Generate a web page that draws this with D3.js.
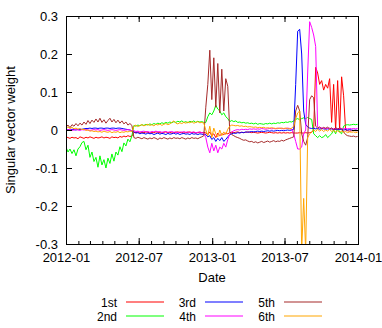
<!DOCTYPE html>
<html>
<head>
<meta charset="utf-8">
<script src="https://cdnjs.cloudflare.com/ajax/libs/d3/7.8.5/d3.min.js"></script>
<style>
body { margin: 0; background: #fff; }
svg { display: block; }
text { font-family: "Liberation Sans", Arial, Helvetica, sans-serif; font-size: 13px; fill: #000; }
</style>
</head>
<body>
<svg></svg>
<script>
// one value every 5 days from 2012-01-01
var startDate = "2012-01-01";
var stepDays = 5;

var seriesNames = ["1st", "2nd", "3rd", "4th", "5th", "6th"];
var xTickLabels = ["2012-01", "2012-07", "2013-01", "2013-07", "2014-01"];
var yTickLabels = ["-0.3", "-0.2", "-0.1", "0", "0.1", "0.2", "0.3"];

var first = [
  -0.018, -0.02, -0.022, -0.019, -0.021, -0.02, -0.023, -0.018, -0.02, -0.022, -0.019, -0.021, -0.018, -0.02, -0.022, -0.019, -0.021, -0.02, -0.018, -0.021, -0.019, -0.02, -0.022, -0.018, -0.02, -0.019, -0.021, -0.017, -0.019, -0.016, -0.018, -0.015, -0.017, -0.016,
  -0.006, -0.007, -0.005, -0.008, -0.006, -0.007, -0.005, -0.006, -0.008, -0.006, -0.007, -0.005, -0.006, -0.007, -0.008, -0.006, -0.005, -0.007, -0.006, -0.008, -0.007, -0.006, -0.005, -0.007, -0.006, -0.008, -0.007, -0.006, -0.005, -0.007, -0.006, -0.008, -0.007, -0.006, -0.007, -0.006,
  -0.008, -0.012, -0.005, -0.015, -0.01, -0.02, -0.008, -0.015, -0.01, -0.012, -0.008, -0.01, -0.007,
  -0.006, -0.007, -0.006, -0.005, -0.007, -0.006, -0.007, -0.006, -0.005, -0.006, -0.007, -0.006, -0.007, -0.008, -0.007, -0.006, -0.007, -0.008, -0.007, -0.006, -0.007, -0.008, -0.007, -0.008, -0.007, -0.008, -0.007, -0.008, -0.007, -0.008, -0.007, -0.008,
  -0.008, -0.008, -0.007, -0.008, -0.008, -0.007, -0.008, -0.007, -0.006, 0.0, 0.165, 0.15, 0.12, 0.13, 0.105, 0.12, 0.11, 0.135, 0.02, 0.12, 0.0, 0.13, 0.0, 0.14, 0.09, 0.0, -0.002, -0.003, -0.002, -0.001, -0.002, -0.002
];
var second = [
  -0.045, -0.058, -0.05, -0.062, -0.052, -0.068, -0.05, -0.044, -0.033, -0.03, -0.052, -0.04, -0.072, -0.058, -0.083, -0.072, -0.098, -0.068, -0.092, -0.078, -0.1, -0.074, -0.088, -0.063, -0.082, -0.058, -0.066, -0.044, -0.057, -0.034, -0.042, -0.024, -0.031, -0.015,
  0.012, 0.01, 0.013, 0.011, 0.014, 0.012, 0.015, 0.013, 0.016, 0.014, 0.017, 0.015, 0.018, 0.016, 0.019, 0.017, 0.02, 0.018, 0.021, 0.019, 0.022, 0.02, 0.023, 0.021, 0.024, 0.02, 0.022, 0.019, 0.023, 0.021, 0.024, 0.02, 0.023, 0.021, 0.022, 0.02,
  0.02, 0.035, 0.045, 0.04, 0.05, 0.065, 0.055, 0.05, 0.04, 0.045, 0.035, 0.03, 0.022,
  0.025, 0.022, 0.024, 0.02, 0.021, 0.019, 0.02, 0.018, 0.019, 0.017, 0.018, 0.016, 0.018, 0.015, 0.017, 0.016, 0.015, 0.017, 0.016, 0.018, 0.016, 0.018, 0.017, 0.019, 0.018, 0.02, 0.019, 0.021, 0.02, 0.022, 0.021, 0.024,
  0.028, 0.03, 0.027, 0.03, 0.032, 0.03, 0.033, 0.03, 0.028, -0.01, -0.015, -0.02, -0.015, -0.02, -0.018, -0.012, -0.02, -0.015, -0.01, 0.0, -0.01, 0.005, -0.005, -0.01, 0.01, 0.013, 0.014, 0.013, 0.014, 0.015, 0.014, 0.015
];
var third = [
  0.0, 0.001, 0.0, 0.002, 0.001, 0.0, 0.002, 0.001, 0.002, 0.003, 0.004, 0.004, 0.005, 0.004, 0.005, 0.005, 0.004, 0.005, 0.005, 0.004, 0.005, 0.005, 0.004, 0.005, 0.005, 0.004, 0.005, 0.005, 0.004, 0.003, 0.002, 0.001, 0.0, -0.002,
  -0.005, -0.008, -0.007, -0.01, -0.008, -0.009, -0.011, -0.008, -0.01, -0.009, -0.012, -0.01, -0.008, -0.011, -0.009, -0.01, -0.012, -0.009, -0.011, -0.01, -0.008, -0.011, -0.009, -0.012, -0.01, -0.009, -0.011, -0.01, -0.012, -0.009, -0.011, -0.01, -0.012, -0.01, -0.011, -0.012,
  -0.012, -0.018, -0.015, -0.025, -0.02, -0.03, -0.022, -0.028, -0.02, -0.03, -0.025, -0.018, -0.012,
  -0.01, -0.008, -0.009, -0.007, -0.008, -0.006, -0.007, -0.005, -0.006, -0.005, -0.004, -0.005, -0.004, -0.003, -0.004, -0.003, -0.004, -0.003, -0.002, -0.003, -0.002, -0.003, -0.002, -0.001, -0.002, -0.001, -0.002, -0.001, 0.0, -0.001, 0.0, 0.002,
  0.12, 0.26, 0.265, 0.2, 0.05, 0.015, 0.008, 0.005, 0.004, 0.005, 0.003, 0.004, 0.002, 0.004, 0.003, 0.002, 0.003, 0.002, 0.003, 0.001, 0.002, 0.001, 0.002, 0.001, 0.0, 0.001, 0.0, 0.001, 0.0, -0.001, 0.0, -0.001
];
var fourth = [
  0.002, 0.0, 0.001, -0.001, 0.0, 0.001, 0.0, -0.001, 0.001, 0.0, 0.001, 0.0, -0.001, 0.0, 0.001, 0.0, 0.001, -0.001, 0.0, 0.001, 0.0, -0.001, 0.0, 0.001, 0.0, -0.001, 0.0, 0.001, 0.0, -0.001, 0.0, 0.001, 0.0, -0.002,
  -0.002, -0.004, -0.003, -0.005, -0.004, -0.003, -0.005, -0.004, -0.006, -0.004, -0.005, -0.003, -0.005, -0.004, -0.006, -0.005, -0.004, -0.006, -0.005, -0.004, -0.006, -0.005, -0.007, -0.005, -0.006, -0.004, -0.006, -0.005, -0.007, -0.006, -0.005, -0.007, -0.006, -0.005, -0.007, -0.008,
  -0.02, -0.045, -0.06, -0.035, -0.055, -0.04, -0.06, -0.045, -0.05, -0.035, -0.045, -0.025, -0.01,
  -0.005, -0.002, 0.0, 0.001, 0.0, 0.002, 0.001, 0.002, 0.001, 0.003, 0.002, 0.003, 0.002, 0.003, 0.002, 0.004, 0.003, 0.002, 0.003, 0.004, 0.003, 0.004, 0.003, 0.004, 0.005, 0.004, 0.003, 0.004, 0.005, 0.004, 0.002, -0.01,
  -0.03, -0.05, -0.05, -0.045, -0.01, 0.0, 0.15, 0.285, 0.27, 0.25, 0.22, 0.008, 0.005, 0.006, 0.004, 0.005, 0.004, 0.005, 0.003, 0.004, 0.003, 0.004, 0.003, 0.004, 0.003, 0.004, 0.003, 0.004, 0.003, 0.004, 0.003, 0.004
];
var fifth = [
  0.008, 0.013, 0.006, 0.014, 0.01, 0.017, 0.011, 0.018, 0.013, 0.021, 0.015, 0.025, 0.017, 0.026, 0.02, 0.029, 0.021, 0.031, 0.02, 0.027, 0.018, 0.025, 0.031, 0.021, 0.028, 0.019, 0.026, 0.018, 0.024, 0.016, 0.021, 0.013, 0.017, 0.012,
  -0.02, -0.022, -0.019, -0.021, -0.023, -0.02, -0.022, -0.024, -0.021, -0.023, -0.02, -0.022, -0.025, -0.021, -0.023, -0.02, -0.022, -0.024, -0.021, -0.023, -0.02, -0.022, -0.021, -0.023, -0.02, -0.022, -0.024, -0.021, -0.023, -0.02, -0.022, -0.021, -0.023, -0.02, -0.018, -0.015,
  0.06, 0.12, 0.21, 0.08, 0.19, 0.06, 0.175, 0.045, 0.16, 0.05, 0.135, 0.115, -0.005,
  -0.012, -0.015, -0.018, -0.02, -0.022, -0.025, -0.027, -0.026, -0.029, -0.031, -0.03, -0.033, -0.031, -0.034, -0.032, -0.03, -0.033, -0.031, -0.029, -0.032, -0.03, -0.028, -0.031, -0.029, -0.03, -0.027, -0.029, -0.026, -0.024, -0.022, -0.02, -0.018,
  0.05, 0.065, 0.05, -0.01, -0.03, -0.04, -0.02, 0.08, 0.09, 0.085, 0.01, 0.005, 0.008, 0.003, 0.007, 0.004, 0.008, 0.002, 0.006, 0.0, 0.007, 0.002, 0.006, 0.003, -0.005, -0.012, -0.015, -0.016, -0.017, -0.016, -0.018, -0.017
];
var sixth = [
  0.006, 0.008, 0.004, 0.007, 0.003, 0.005, 0.002, 0.004, 0.001, 0.002, -0.001, 0.0, -0.003, -0.002, -0.004, -0.003, -0.005, -0.004, -0.006, -0.003, -0.005, -0.006, -0.004, -0.007, -0.005, -0.006, -0.004, -0.007, -0.005, -0.006, -0.004, -0.005, -0.003, -0.004,
  0.01, 0.013, 0.009, 0.012, 0.014, 0.011, 0.013, 0.015, 0.012, 0.014, 0.011, 0.015, 0.013, 0.016, 0.012, 0.015, 0.017, 0.014, 0.016, 0.02, 0.024, 0.018, 0.016, 0.019, 0.017, 0.02, 0.018, 0.021, 0.019, 0.022, 0.018, 0.02, 0.022, 0.019, 0.02, 0.018,
  0.0, -0.015, 0.01, -0.02, 0.005, -0.01, -0.018, 0.0, -0.015, -0.005, -0.012, 0.002, 0.01,
  0.013, 0.012, 0.011, 0.012, 0.01, 0.011, 0.009, 0.01, 0.008, 0.009, 0.008, 0.007, 0.008, 0.006, 0.007, 0.006, 0.007, 0.005, 0.006, 0.005, 0.006, 0.005, 0.004, 0.005, 0.004, 0.005, 0.004, 0.005, 0.004, 0.003, 0.005, 0.01,
  0.03, 0.045, 0.05, -0.32, -0.18, -0.32, -0.02, -0.01, -0.005, 0.0, -0.004, 0.002, -0.003, 0.001, -0.004, 0.0, -0.003, 0.002, -0.004, -0.001, -0.005, -0.002, -0.006, -0.003, -0.006, -0.004, -0.007, -0.005, -0.006, -0.005, -0.007, -0.006
];

var allSeries = [first, second, third, fourth, fifth, sixth];
var colors = ["#ff0000", "#00ff00", "#0000ff", "#ff00ff", "#a52a2a", "#ffa500"];

var margin = {top: 16, right: 24, bottom: 84, left: 66};
var width = 382 - margin.left - margin.right;
var height = 328 - margin.top - margin.bottom;

var parseMonth = d3.timeParse("%Y-%m");
var t0 = d3.timeParse("%Y-%m-%d")(startDate);
var t1 = parseMonth(xTickLabels[xTickLabels.length - 1]);

var xs = d3.scaleTime().domain([t0, t1]).range([0, width]);
var ys = d3.scaleLinear().domain([-0.3, 0.3]).range([height, 0]);

var svg = d3.select("svg")
    .attr("width", 382)
    .attr("height", 328);

var graph = svg.append("g")
    .attr("transform", "translate(" + margin.left + "," + margin.top + ")");

graph.append("clipPath")
    .attr("id", "plotclip")
  .append("rect")
    .attr("width", width)
    .attr("height", height);

// series lines, 1st drawn first so 6th ends on top
var line = d3.line()
    .x(function(d, i) { return xs(d3.timeDay.offset(t0, i * stepDays)); })
    .y(function(d) { return ys(d); });

graph.append("g")
    .attr("clip-path", "url(#plotclip)")
  .selectAll("path")
    .data(allSeries)
    .enter()
  .append("path")
    .attr("fill", "none")
    .attr("stroke", function(d, i) { return colors[i]; })
    .attr("stroke-width", 1)
    .attr("d", line);

// axes, ticks point inward on all four sides
var majorDates = xTickLabels.map(parseMonth);
var minorDates = d3.timeMonth.range(t0, t1);
var yValues = yTickLabels.map(Number);

function clean(g) {
  g.select(".domain").remove();
  g.selectAll("line").attr("stroke", "#000");
}

graph.append("g")
    .attr("transform", "translate(0," + height + ")")
    .call(d3.axisBottom(xs).tickValues(minorDates).tickSize(-3).tickFormat(""))
    .call(clean);
graph.append("g")
    .call(d3.axisTop(xs).tickValues(minorDates).tickSize(-3).tickFormat(""))
    .call(clean);

graph.append("g")
    .attr("transform", "translate(0," + height + ")")
    .call(d3.axisBottom(xs).tickValues(majorDates).tickSize(-6).tickPadding(9)
      .tickFormat(function(d, i) { return xTickLabels[i]; }))
    .call(clean)
    .selectAll("text").attr("fill", "#000").style("font-size", "13px");
graph.append("g")
    .call(d3.axisTop(xs).tickValues(majorDates).tickSize(-6).tickFormat(""))
    .call(clean);

graph.append("g")
    .call(d3.axisLeft(ys).tickValues(yValues).tickSize(-6).tickPadding(8)
      .tickFormat(function(d, i) { return yTickLabels[i]; }))
    .call(clean)
    .selectAll("text").attr("fill", "#000").style("font-size", "13px");
graph.append("g")
    .attr("transform", "translate(" + width + ",0)")
    .call(d3.axisRight(ys).tickValues(yValues).tickSize(-6).tickFormat(""))
    .call(clean);

graph.append("rect")
    .attr("x", 0.5)
    .attr("y", 0.5)
    .attr("width", width)
    .attr("height", height)
    .attr("fill", "none")
    .attr("stroke", "#000")
    .attr("stroke-width", 1);

// axis titles
graph.append("text")
    .attr("x", width / 2)
    .attr("y", height + 38)
    .attr("text-anchor", "middle")
    .text("Date");

svg.append("text")
    .attr("transform", "translate(15," + (margin.top + height / 2) + ") rotate(-90)")
    .attr("text-anchor", "middle")
    .text("Singular vector weight");

// legend: 3 columns x 2 rows
var legend = svg.append("g")
    .attr("transform", "translate(0," + (margin.top + height + 58) + ")");

var item = legend.selectAll("g")
    .data(seriesNames)
    .enter()
  .append("g")
    .attr("transform", function(d, i) {
      return "translate(" + (117 + Math.floor(i / 2) * 79) + "," + ((i % 2) * 14) + ")";
    });

item.append("text")
    .attr("text-anchor", "end")
    .attr("y", 4.5)
    .style("font-size", "12px")
    .text(function(d) { return d; });

item.append("line")
    .attr("x1", 9)
    .attr("x2", 47)
    .attr("y1", 0)
    .attr("y2", 0)
    .attr("stroke", function(d, i) { return colors[i]; })
    .attr("stroke-width", 1.2);
</script>
</body>
</html>
